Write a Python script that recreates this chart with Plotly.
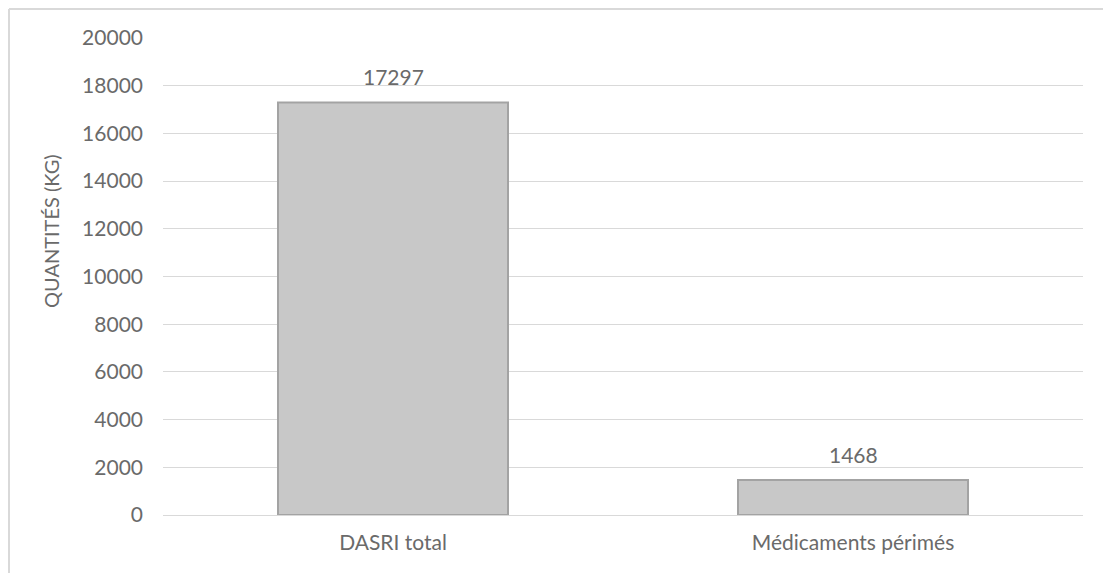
import plotly.graph_objects as go

categories = ["DASRI total", "Médicaments périmés"]
values = [17297, 1468]
y_ticks = [0, 2000, 4000, 6000, 8000, 10000, 12000, 14000, 16000, 18000, 20000]
y_title = "QUANTITÉS (KG)"

FONT = "Lato, Carlito, Calibri, sans-serif"
TXT = "#6a6a6a"

fig = go.Figure()
fig.add_trace(go.Bar(
    x=categories, y=values,
    marker=dict(color="#c8c8c8", line=dict(color="#a3a3a3", width=2)),
    hoverinfo="x+y",
))

for c, v in zip(categories, values):
    fig.add_annotation(x=c, y=v, text=str(v), showarrow=False,
                       yanchor="bottom", yshift=11,
                       font=dict(family=FONT, size=21, color=TXT))

W, H = 1103, 573
L, R, T, B = 163, 20, 38, 58
pw = W - L - R
ph = H - T - B

# y-axis title (rotated), placed as in the reference
fig.add_annotation(xref="paper", yref="paper",
                   x=(51 - L) / pw, y=(H - B - 231) / ph,
                   text=y_title, textangle=-90, showarrow=False,
                   xanchor="center", yanchor="middle",
                   font=dict(family=FONT, size=20, color=TXT))

# outer chart border (left and top)
fig.add_shape(type="line", xref="paper", yref="paper",
              x0=(9 - L) / pw, x1=(9 - L) / pw, y0=(H - 9 - B) / ph, y1=-B / ph - 0.1,
              line=dict(color="#d9d9d9", width=2))
fig.add_shape(type="line", xref="paper", yref="paper",
              x0=(9 - L) / pw, x1=1 + R / pw + 0.1, y0=(H - 9 - B) / ph, y1=(H - 9 - B) / ph,
              line=dict(color="#d9d9d9", width=2))

fig.update_layout(
    width=W, height=H,
    margin=dict(l=L, r=R, t=T, b=B, autoexpand=False),
    paper_bgcolor="white", plot_bgcolor="white",
    bargap=0.5,
    showlegend=False,
    font=dict(family=FONT, size=21, color=TXT),
    xaxis=dict(showgrid=False, showline=False, ticks="", zeroline=False,
               tickfont=dict(family=FONT, size=21, color=TXT),
               ticklabelstandoff=13, automargin=False),
    yaxis=dict(range=[0, 20000], tickvals=y_ticks, ticktext=[str(t) for t in y_ticks],
               showgrid=True, gridcolor="#d9d9d9", gridwidth=1,
               zeroline=True, zerolinecolor="#d9d9d9", zerolinewidth=1,
               showline=False, ticks="",
               tickfont=dict(family=FONT, size=21, color=TXT),
               ticklabelstandoff=19, automargin=False),
)

fig.write_html("out.html")
